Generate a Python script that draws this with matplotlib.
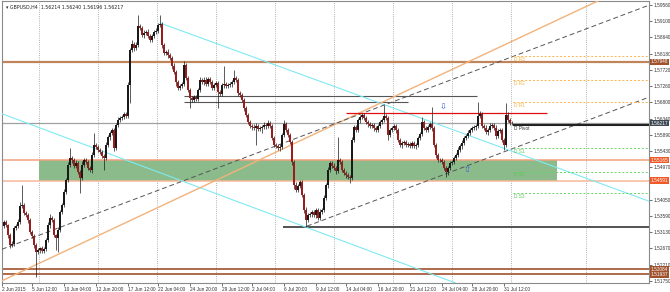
import numpy as np
import matplotlib
matplotlib.use('Agg')
import matplotlib.pyplot as plt
from matplotlib.transforms import blended_transform_factory

plt.rcParams['font.family'] = ['Liberation Sans', 'DejaVu Sans']

# GBPUSD H4 candles (close prices, wick sizes in pips)
first_open = 1.5330
closes = [
    1.5342, 1.5333, 1.5305, 1.5277, 1.5280, 1.5325, 1.5330, 1.5342, 1.5387, 1.5390, 1.5367, 1.5362, 1.5347, 1.5313, 1.5302, 1.5277,
    1.5257, 1.5263, 1.5268, 1.5260, 1.5265, 1.5291, 1.5333, 1.5353, 1.5347, 1.5305, 1.5297, 1.5319, 1.5370, 1.5390, 1.5427, 1.5461,
    1.5503, 1.5523, 1.5517, 1.5500, 1.5509, 1.5483, 1.5466, 1.5503, 1.5517, 1.5512, 1.5495, 1.5489, 1.5531, 1.5560, 1.5554, 1.5546,
    1.5540, 1.5529, 1.5523, 1.5560, 1.5582, 1.5594, 1.5602, 1.5551, 1.5616, 1.5630, 1.5636, 1.5639, 1.5647, 1.5642, 1.5729, 1.5829,
    1.5846, 1.5834, 1.5843, 1.5896, 1.5891, 1.5871, 1.5877, 1.5879, 1.5868, 1.5857, 1.5868, 1.5879, 1.5882, 1.5899, 1.5902, 1.5843,
    1.5820, 1.5823, 1.5814, 1.5806, 1.5783, 1.5766, 1.5738, 1.5721, 1.5727, 1.5732, 1.5786, 1.5749, 1.5715, 1.5693, 1.5687, 1.5696,
    1.5690, 1.5715, 1.5744, 1.5738, 1.5744, 1.5732, 1.5746, 1.5738, 1.5721, 1.5729, 1.5735, 1.5710, 1.5704, 1.5729, 1.5732, 1.5727,
    1.5729, 1.5732, 1.5738, 1.5749, 1.5744, 1.5707, 1.5701, 1.5687, 1.5664, 1.5645, 1.5625, 1.5613, 1.5611, 1.5608, 1.5613, 1.5605,
    1.5608, 1.5611, 1.5616, 1.5613, 1.5622, 1.5613, 1.5580, 1.5560, 1.5557, 1.5551, 1.5554, 1.5588, 1.5619, 1.5602, 1.5588, 1.5568,
    1.5512, 1.5446, 1.5432, 1.5444, 1.5455, 1.5418, 1.5376, 1.5347, 1.5362, 1.5364, 1.5370, 1.5362, 1.5376, 1.5353, 1.5370, 1.5376,
    1.5410, 1.5446, 1.5489, 1.5509, 1.5500, 1.5495, 1.5486, 1.5517, 1.5512, 1.5489, 1.5480, 1.5475, 1.5469, 1.5466, 1.5574, 1.5611,
    1.5602, 1.5630, 1.5639, 1.5645, 1.5636, 1.5625, 1.5619, 1.5613, 1.5616, 1.5608, 1.5602, 1.5613, 1.5625, 1.5630, 1.5642, 1.5636,
    1.5588, 1.5602, 1.5608, 1.5613, 1.5602, 1.5574, 1.5560, 1.5565, 1.5568, 1.5560, 1.5563, 1.5557, 1.5565, 1.5557, 1.5560, 1.5580,
    1.5591, 1.5625, 1.5608, 1.5602, 1.5611, 1.5619, 1.5608, 1.5560, 1.5531, 1.5517, 1.5517, 1.5512, 1.5495, 1.5483, 1.5495, 1.5509,
    1.5512, 1.5523, 1.5531, 1.5546, 1.5557, 1.5565, 1.5580, 1.5585, 1.5594, 1.5602, 1.5608, 1.5611, 1.5613, 1.5642, 1.5647, 1.5613,
    1.5608, 1.5596, 1.5602, 1.5613, 1.5616, 1.5608, 1.5585, 1.5599, 1.5602, 1.5574, 1.5560, 1.5645, 1.5630, 1.5622, 1.56217,
]
up_wick = [
    6, 5, 4, 6, 8, 5, 6, 7, 10, 56, 5, 6, 4, 5, 6, 5,
    5, 6, 4, 7, 5, 6, 8, 10, 5, 6, 4, 8, 6, 5, 7, 6,
    8, 28, 6, 5, 8, 6, 5, 10, 7, 6, 5, 6, 8, 34, 6, 5,
    6, 5, 6, 8, 6, 5, 7, 6, 5, 8, 6, 5, 7, 6, 8, 6,
    10, 6, 8, 32, 6, 5, 7, 6, 8, 6, 5, 6, 8, 6, 26, 5,
    6, 5, 7, 6, 5, 8, 6, 5, 6, 5, 12, 6, 5, 7, 6, 5,
    6, 5, 8, 6, 7, 8, 6, 5, 6, 7, 5, 6, 5, 6, 51, 6,
    5, 6, 7, 23, 6, 5, 6, 5, 6, 5, 6, 5, 6, 7, 8, 6,
    6, 5, 8, 6, 7, 6, 5, 6, 5, 6, 8, 6, 11, 6, 5, 6,
    6, 5, 8, 6, 7, 6, 5, 8, 6, 5, 7, 6, 5, 6, 8, 6,
    8, 6, 7, 6, 5, 8, 6, 65, 6, 5, 6, 5, 6, 5, 8, 6,
    6, 7, 6, 5, 6, 5, 6, 5, 6, 5, 6, 7, 6, 5, 31, 6,
    6, 5, 6, 7, 6, 5, 6, 5, 6, 7, 5, 6, 5, 6, 5, 6,
    6, 14, 6, 5, 6, 7, 49, 6, 5, 6, 5, 6, 5, 6, 5, 6,
    6, 5, 6, 7, 6, 8, 6, 5, 7, 6, 5, 6, 6, 39, 8, 6,
    6, 7, 6, 8, 6, 5, 7, 6, 5, 6, 5, 34, 8, 6, 5,
]
down_wick = [
    6, 5, 8, 10, 6, 5, 6, 5, 6, 7, 5, 6, 8, 5, 6, 8,
    71, 6, 8, 5, 6, 5, 6, 7, 5, 6, 34, 40, 6, 5, 7, 6,
    6, 5, 8, 6, 5, 6, 42, 6, 5, 7, 6, 5, 8, 6, 5, 6,
    6, 5, 34, 6, 5, 7, 6, 8, 6, 5, 6, 7, 5, 6, 6, 51,
    6, 8, 5, 6, 7, 6, 8, 6, 5, 6, 7, 5, 6, 5, 6, 8,
    6, 5, 7, 6, 8, 6, 10, 5, 6, 7, 6, 5, 6, 29, 6, 5,
    6, 7, 5, 6, 8, 6, 5, 6, 7, 5, 6, 46, 5, 6, 7, 6,
    6, 5, 7, 6, 5, 8, 6, 5, 7, 6, 5, 6, 8, 6, 48, 6,
    6, 15, 6, 8, 6, 5, 7, 6, 5, 6, 8, 6, 5, 6, 7, 6,
    8, 10, 6, 5, 7, 6, 8, 19, 6, 5, 7, 6, 8, 6, 5, 6,
    6, 5, 7, 6, 5, 6, 8, 6, 5, 7, 6, 8, 6, 14, 6, 5,
    6, 5, 7, 6, 5, 6, 7, 6, 5, 8, 6, 5, 6, 7, 6, 5,
    15, 6, 5, 6, 7, 5, 6, 8, 6, 5, 6, 7, 5, 6, 8, 6,
    6, 5, 7, 6, 5, 6, 8, 6, 7, 6, 5, 6, 5, 13, 7, 6,
    6, 5, 7, 6, 5, 8, 6, 5, 6, 7, 5, 6, 8, 6, 5, 6,
    6, 5, 7, 6, 5, 6, 8, 6, 5, 6, 14, 6, 5, 6, 5,
]

# axis labels
price_ticks = [1.59560, 1.59100, 1.58640, 1.58180, 1.57720, 1.57260, 1.56800, 1.56340,
               1.55890, 1.55430, 1.54970, 1.54050, 1.53590, 1.53130, 1.52670,
               1.52210, 1.51750]
time_labels = ['2 Jun 2015', '5 Jun 12:00', '10 Jun 04:00', '12 Jun 20:00', '17 Jun 12:00',
               '22 Jun 04:00', '24 Jun 20:00', '29 Jun 12:00', '2 Jul 04:00', '6 Jul 20:00',
               '9 Jul 12:00', '14 Jul 04:00', '16 Jul 20:00', '21 Jul 12:00', '24 Jul 04:00',
               '28 Jul 20:00', '31 Jul 12:00']
time_label_bars = [-1, 14, 30, 46, 62, 77, 93, 109, 124, 140, 156, 171, 187, 203, 219, 234, 250]
grid_bars = [17.5, 47, 76.5, 106, 135.5, 165, 194.5, 224, 253.5, 291]

# horizontal levels
level_top = 1.57948
zone_top = 1.55165
zone_bot = 1.54591
level_low1 = 1.52084
level_low2 = 1.51937
bid = 1.56217
swing_low = 1.5328
gray_a = 1.5698
gray_b = 1.5681
red_level = 1.5650

# weekly fib pivots
pivot_names = ['R3', 'R2', 'R1', 'Pivot', 'S1', 'S2', 'S3']
pivot_levels = [1.5812, 1.5744, 1.5681, 1.5616, 1.5551, 1.5484, 1.5423]

# trend lines (bar, price)
cyan_a = [(78, 1.5905), (238, 1.5575)]
cyan_b = [(0, 1.5646), (150.5, 1.5328)]
orange_line = [(88, 1.5412), (234, 1.5800)]
dash_a = [(38, 1.5348), (238, 1.5775)]
dash_b = [(151.5, 1.5330), (278, 1.5600)]

arrow_down = (219.5, 1.5667)
arrow_up = (231.5, 1.5489)

closes = np.array(closes)
opens = np.concatenate([[first_open], closes[:-1]])
highs = np.maximum(opens, closes) + np.array(up_wick) / 10000
lows = np.minimum(opens, closes) - np.array(down_wick) / 10000
bars = np.arange(len(closes))

fig = plt.figure(figsize=(6.7, 2.92), dpi=100)
ax = fig.add_axes([2 / 670, 9 / 292, 647 / 670, 282 / 292])
ax.set_xlim(-1, 322.5)
ax.set_ylim(1.51691, 1.59672)

fs = 3.4
for g in grid_bars:
    ax.axvline(g, color='#9a9a9a', lw=0.6, ls=(0, (1, 1.6)), zorder=0)

# green zone
ax.fill_between([17.5, 276.5], zone_bot, zone_top, color='#8bbb8b', lw=0, zorder=1)
ax.axhline(zone_top, color='#f2a07e', lw=1.1, zorder=2)
ax.axhline(zone_bot, color='#f6b898', lw=1.1, zorder=2)

ax.axhline(level_top, color='#c0845a', lw=1.6, zorder=2)
ax.axhline(level_low1, color='#a0522d', lw=1.2, zorder=2)
ax.axhline(level_low2, color='#a0522d', lw=1.2, zorder=2)
ax.axhline(bid, color='#a0a0a0', lw=0.9, zorder=2)
ax.hlines(swing_low, 139.5, 322.5, color='#444444', lw=1.3, zorder=2)
ax.hlines(gray_a, 90, 236.5, color='#555555', lw=0.8, zorder=2)
ax.hlines(gray_b, 90, 202, color='#555555', lw=0.8, zorder=2)
ax.hlines(red_level, 171, 271.5, color='#e01010', lw=0.9, zorder=5)


def ray(p, **kw):
    (x0, y0), (x1, y1) = p
    s = (y1 - y0) / (x1 - x0)
    xe = 322.5
    ax.plot([x0, xe], [y0, y0 + s * (xe - x0)], **kw)


ray(cyan_a, color='#7feaf2', lw=0.8, zorder=3)
ax.axline(cyan_b[0], cyan_b[1], color='#7feaf2', lw=0.8, zorder=3)
ax.axline(orange_line[0], orange_line[1], color='#f2b27a', lw=1.0, zorder=3)
ax.axline(dash_a[0], dash_a[1], color='#555555', lw=0.7, ls=(0, (5, 3)), zorder=3)
ray(dash_b, color='#555555', lw=0.7, ls=(0, (5, 3)), zorder=3)

# pivots
piv_start = 254.5
for name, lv in zip(pivot_names, pivot_levels):
    if name == 'Pivot':
        ax.hlines(lv, piv_start, 322.5, color='#222222', lw=1.5, zorder=4)
        col = '#333333'
    elif name.startswith('R'):
        ax.hlines(lv, piv_start, 322.5, color='#ffb347', lw=0.7, ls=(0, (2, 2)), zorder=4)
        col = '#f5b041'
    else:
        ax.hlines(lv, piv_start, 322.5, color='#66d466', lw=0.7, ls=(0, (2, 2)), zorder=4)
        col = '#5cc85c'
    ax.text(piv_start + 0.5, lv - 0.0002, 'D ' + name, fontsize=fs, color=col,
            va='top', ha='left', zorder=6)

# candles
bull = closes >= opens
ax.vlines(bars, lows, highs, color='#1a1a1a', lw=0.5, zorder=6)
body_h = np.maximum(np.abs(closes - opens), 0.00008)
body_b = np.minimum(opens, closes)
ax.bar(bars[bull], body_h[bull], bottom=body_b[bull], width=0.75, color='#1a1a1a', lw=0, zorder=7)
ax.bar(bars[~bull], body_h[~bull], bottom=body_b[~bull], width=0.75, color='#9b1c1c', lw=0, zorder=7)

ax.text(arrow_down[0], arrow_down[1], '\u21e9', color='#3556e0', fontsize=6, ha='center',
        va='center', zorder=8, family='DejaVu Sans')
ax.text(arrow_up[0], arrow_up[1], '\u21e7', color='#3556e0', fontsize=6, ha='center',
        va='center', zorder=8, family='DejaVu Sans')

# axes styling
for sp in ax.spines.values():
    sp.set_color('#8a8a8a')
    sp.set_linewidth(0.8)
ax.yaxis.tick_right()
ax.set_yticks(price_ticks)
ax.set_yticklabels([f'{p:.5f}' for p in price_ticks])
ax.tick_params(axis='y', length=2, width=0.5, pad=1.2, labelsize=fs, colors='#333333')
ax.set_xticks(time_label_bars)
ax.set_xticklabels(time_labels, ha='left')
ax.tick_params(axis='x', length=2, width=0.5, pad=1.0, labelsize=fs, colors='#333333')

tr = blended_transform_factory(ax.transAxes, ax.transData)
boxes = [(level_top, '#a0522d'), (bid, '#3f4a55'), (zone_top, '#f05a28'),
         (zone_bot, '#f05a28'), (level_low1, '#a0522d'), (level_low2, '#a0522d')]
for lv, c in boxes:
    ax.text(1.003, lv, f'{lv:.5f}', transform=tr, fontsize=fs, color='white', va='center',
            ha='left', bbox=dict(facecolor=c, edgecolor='none', pad=0.5), zorder=10, clip_on=False)

ax.text(0.006, 0.988, '\u25be GBPUSD,H4  1.56214 1.56240 1.56196 1.56217', transform=ax.transAxes,
        fontsize=3.4, color='#222222', va='top', ha='left', family=['DejaVu Sans'])

fig.savefig('out.png', dpi=100)
